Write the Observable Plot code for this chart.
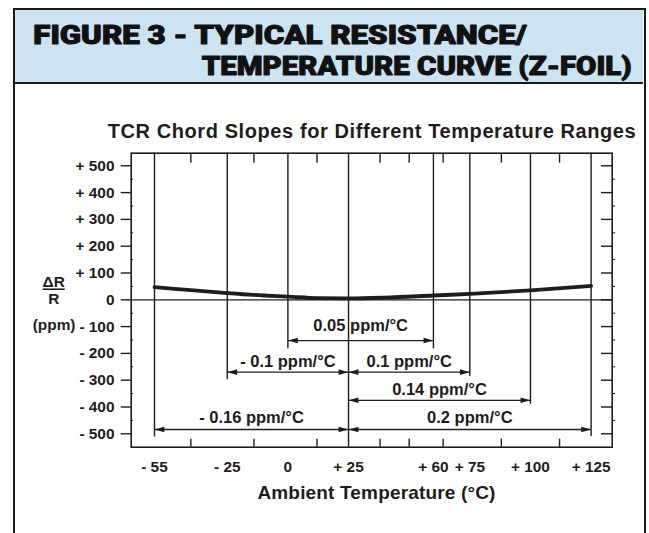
<!DOCTYPE html>
<html>
<head>
<meta charset="utf-8">
<script src="https://cdn.jsdelivr.net/npm/d3@7"></script>
<script src="https://cdn.jsdelivr.net/npm/@observablehq/plot@0.6"></script>
<style>
  body { margin: 0; background: #fff; }
  #page { position: relative; width: 649px; height: 533px; overflow: hidden; background: #fff; }
  #box { position: absolute; left: 12.5px; top: 7.7px; width: 633px; height: 600px; border: 2.5px solid #1a1a1a; box-sizing: border-box; }
  #hdr { position: absolute; left: 15px; top: 10.2px; width: 628px; height: 71.5px; background: #cce4f2; border-bottom: 2.6px solid #1a1a1a; }
  #hdrsvg { position: absolute; left: 0; top: 0; }
  #chart { position: absolute; left: 0; top: 0; }
</style>
</head>
<body>
<div id="page">
  <div id="box"></div>
  <div id="hdr"></div>
  <svg id="hdrsvg" width="649" height="90"></svg>
  <div id="chart"></div>
</div>
<script>
// ---- text ----
const headerLines = ["FIGURE 3 - TYPICAL RESISTANCE/", "TEMPERATURE CURVE (Z-FOIL)"];
const chartTitle = "TCR Chord Slopes for Different Temperature Ranges";
const xLabel = "Ambient Temperature (°C)";
const yLabelTop = "ΔR";
const yLabelBottom = "R";
const yUnit = "(ppm)";

// ---- axes ----
const yTicks = [-500, -400, -300, -200, -100, 0, 100, 200, 300, 400, 500];
const yMinor = [-450, -350, -250, -150, -50, 50, 150, 250, 350, 450];
const xTicks = [-55, -25, 0, 25, 60, 75, 100, 125];
const frameTicks = [-40, -14, 12, 38, 50, 64, 88, 112];

// ---- vertical reference lines (temperature, lower end in ppm) ----
const lineTemps = [-55, -25, 0, 25, 60, 75, 100, 125];
const lineEnds = [-512, -298, -183, -550, -183, -286, -390, -510];

// ---- resistance / temperature curve ----
const curveTemp = [-55, -40, -25, -10, 0, 12, 25, 40, 60, 75, 100, 125];
const curvePpm  = [47, 36, 25, 16, 12, 6, 5, 8, 16, 22, 35, 52];

// ---- chord slopes ----
const slopeLabels = ["0.05 ppm/°C", "- 0.1 ppm/°C", "0.1 ppm/°C", "0.14 ppm/°C", "- 0.16 ppm/°C", "0.2 ppm/°C"];
const slopeFrom   = [0, -25, 25, 25, -55, 25];
const slopeTo     = [60, 25, 75, 100, 25, 125];
const arrowLevel  = [-152, -270, -270, -375, -484, -484];
const labelLevel  = [-98, -230, -230, -336, -440, -440];

// ---- build tables ----
const ink = "#1f1c1d";
const yDomain = [-550, 547];
const fmt = d => d > 0 ? `+ ${d}` : d < 0 ? `- ${-d}` : "0";
const vlines = lineTemps.map((t, i) => ({t, end: lineEnds[i]}));
const curve = curveTemp.map((t, i) => ({t, r: curvePpm[i]}));
const slopes = slopeLabels.map((label, i) => ({label, from: slopeFrom[i], to: slopeTo[i], level: arrowLevel[i], ll: labelLevel[i]}));
const heads = slopes.flatMap(s => [{x: s.from, y: s.level, rot: 180}, {x: s.to, y: s.level, rot: 0}]);

const arrowHead = {
  draw(ctx, size) {
    const s = Math.sqrt(size / Math.PI);
    ctx.moveTo(0, 0);
    ctx.lineTo(-2.2 * s, -0.62 * s);
    ctx.lineTo(-2.2 * s, 0.62 * s);
    ctx.closePath();
  }
};

const bold = {fontWeight: "bold", fill: ink};

const chart = Plot.plot({
  width: 649,
  height: 533,
  marginLeft: 130.7,
  marginRight: 37.3,
  marginTop: 152.7,
  marginBottom: 86.3,
  x: {domain: [-64.6, 133.7]},
  y: {domain: yDomain},
  style: {background: "transparent", fontFamily: "'Liberation Sans', Arial, Helvetica, sans-serif", color: ink, overflow: "visible"},
  marks: [
    Plot.ruleY([0], {stroke: ink, strokeWidth: 1.2}),
    Plot.ruleX(vlines, {x: "t", y1: yDomain[1], y2: "end", stroke: ink, strokeWidth: 1.4}),
    Plot.ruleY(slopes, {y: "level", x1: "from", x2: "to", stroke: ink, strokeWidth: 1.3}),
    Plot.dot(heads, {x: "x", y: "y", rotate: "rot", symbol: arrowHead, r: 4.5, fill: ink, stroke: "none"}),
    Plot.text(slopes, {x: d => (d.from + d.to) / 2, y: "ll", text: "label", fontSize: 16.5, ...bold}),
    Plot.line(curve, {x: "t", y: "r", stroke: ink, strokeWidth: 3.8, curve: "monotone-x"}),
    Plot.frame({stroke: ink, strokeWidth: 1.6}),
    Plot.axisY({anchor: "left", ticks: yTicks, tickSize: 10, tickPadding: 6.7, tickFormat: fmt, fontSize: 15.4, fontWeight: "bold", stroke: ink, strokeWidth: 1.4, label: null}),
    Plot.axisY({anchor: "left", ticks: yMinor, tickSize: -2.5, tickFormat: () => "", stroke: ink, label: null}),
    Plot.axisY({anchor: "right", ticks: yTicks, tickSize: -11.7, tickFormat: () => "", stroke: ink, strokeWidth: 1.4, label: null}),
    Plot.axisY({anchor: "right", ticks: yMinor, tickSize: 2.5, tickFormat: () => "", stroke: ink, label: null}),
    Plot.axisX({anchor: "top", ticks: frameTicks, tickSize: -9, tickFormat: () => "", stroke: ink, strokeWidth: 1.4, label: null}),
    Plot.axisX({anchor: "bottom", ticks: frameTicks, tickSize: -8, tickFormat: () => "", stroke: ink, strokeWidth: 1.4, label: null}),
    Plot.axisX({anchor: "bottom", ticks: xTicks, tickSize: 0, tickPadding: 13.5, tickFormat: fmt, fontSize: 15.4, fontWeight: "bold", label: null}),
    Plot.text([chartTitle], {frameAnchor: "top", lineAnchor: "middle", dy: -21.7, fontSize: 20, ...bold}),
    Plot.text([xLabel], {frameAnchor: "bottom", lineAnchor: "middle", dx: 4.7, dy: 45.3, fontSize: 19, ...bold}),
    Plot.text([yLabelTop], {frameAnchor: "left", lineAnchor: "middle", dx: -77.5, dy: -17.7, textAnchor: "middle", fontSize: 15.4, ...bold}),
    Plot.text([yLabelBottom], {frameAnchor: "left", lineAnchor: "middle", dx: -77.5, dy: -1.2, textAnchor: "middle", fontSize: 15.4, ...bold}),
    Plot.text([yUnit], {frameAnchor: "left", lineAnchor: "middle", dx: -77.1, dy: 25.3, textAnchor: "middle", fontSize: 15.4, ...bold})
  ]
});

// fit some text widths to the reference
const widths = {[chartTitle]: 528, [xLabel]: 238};
d3.select(chart).selectAll("text").each(function() {
  const t = this.textContent;
  if (widths[t]) { this.setAttribute("textLength", widths[t]); this.setAttribute("lengthAdjust", "spacing"); }
  if (t === yLabelTop) { this.setAttribute("text-decoration", "underline"); }
});
document.getElementById("chart").appendChild(chart);

// header text
const hs = d3.select("#hdrsvg");
const hdrFont = "Roboto, Inter, Lato, 'Liberation Sans', sans-serif";
const hdrPos = [{x: 33.3, y: 43.5, w: 493.4}, {x: 201.7, y: 74.5, w: 430}];
headerLines.forEach((line, i) => {
  hs.append("text")
    .attr("x", hdrPos[i].x).attr("y", hdrPos[i].y)
    .attr("textLength", hdrPos[i].w).attr("lengthAdjust", "spacingAndGlyphs")
    .attr("font-family", hdrFont).attr("font-weight", 900).attr("font-size", 25)
    .attr("fill", "#111").attr("stroke", "#111").attr("stroke-width", 1.0)
    .attr("stroke-linejoin", "round")
    .text(line);
});
</script>
</body>
</html>
